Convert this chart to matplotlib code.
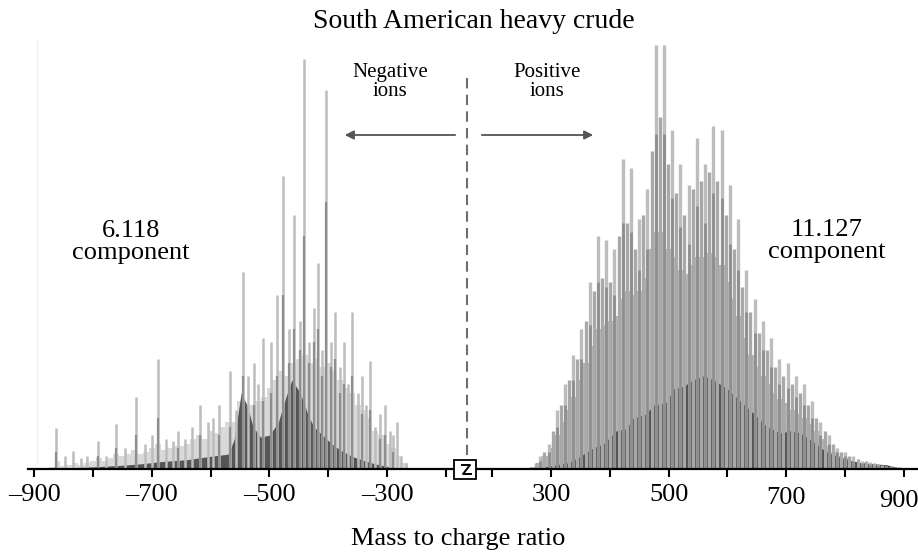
import numpy as np
import matplotlib.pyplot as plt
from matplotlib.patches import Rectangle
from matplotlib.transforms import ScaledTranslation

plt.rcParams['font.family'] = ['Liberation Serif', 'DejaVu Serif']

# ---- positive ions (11.127 component), main CH2 series every 14 u
pos_major_mz = [282, 296, 310, 324, 338, 352, 366, 380, 394, 408, 422, 436, 450, 464,
                478, 492, 506, 520, 534, 548, 562, 576, 590, 604, 618, 632, 646, 660,
                674, 688, 702, 716, 730, 744, 758, 772, 786, 800, 814, 828, 842, 856,
                870, 884, 898]
pos_major_h = [3, 6, 14, 20, 27, 33, 44, 55, 54, 52, 73, 71, 59, 66,
               100, 100, 80, 72, 67, 78, 72, 81, 80, 67, 59, 47, 40, 35,
               31, 26, 25, 22, 20, 16, 11, 8, 5, 4, 3, 2, 1.6, 1.2,
               0.8, 0.5, 0.3]
pos_major_mid = [2, 4, 10, 15, 21, 26, 34, 44, 43, 41, 58, 56, 47, 52,
                 79, 79, 64, 57, 53, 62, 58, 65, 64, 53, 47, 37, 32, 28,
                 24, 20, 19, 17, 15, 12, 8, 6, 4, 3, 2, 1.5, 1.2, 0.9,
                 0.6, 0.4, 0.2]
# second series in between
pos_minor_mz = [275, 289, 303, 317, 331, 345, 359, 373, 387, 401, 415, 429, 443, 457,
                471, 485, 499, 513, 527, 541, 555, 569, 583, 597, 611, 625, 639, 653,
                667, 681, 695, 709, 723, 737, 751, 765, 779, 793, 807, 821, 835, 849,
                863, 877, 891]
pos_minor_h = [1.5, 4, 9, 15, 21, 26, 35, 42, 45, 44, 55, 58, 52, 60,
               75, 83, 72, 65, 60, 66, 68, 70, 68, 60, 52, 43, 37, 32,
               28, 24, 22, 20, 18, 15, 12, 9, 6, 4, 3, 2.3, 1.8, 1.3,
               1, 0.7, 0.4]
# unresolved background, every 10 u
pos_haze_mz = [260, 270, 280, 290, 300, 310, 320, 330, 340, 350, 360, 370, 380,
               390, 400, 410, 420, 430, 440, 450, 460, 470, 480, 490, 500, 510,
               520, 530, 540, 550, 560, 570, 580, 590, 600, 610, 620, 630, 640,
               650, 660, 670, 680, 690, 700, 710, 720, 730, 740, 750, 760, 770,
               780, 790, 800, 810, 820, 830, 840, 850, 860, 870, 880, 890, 900]
pos_haze_h = [0, 0.5, 1.5, 3, 5, 8, 11, 14, 17, 21, 25, 29, 33,
              34, 35, 36, 40, 42, 41, 42, 45, 52, 56, 56, 52, 50,
              47, 46, 48, 50, 50, 51, 50, 48, 44, 40, 36, 31, 27,
              24, 22, 20, 18, 16.5, 15.5, 14, 13, 12, 10.5, 9, 7, 5.5,
              4, 3, 2.5, 2, 1.6, 1.3, 1.1, 0.9, 0.7, 0.5, 0.3, 0.2, 0]
pos_dark_mz = [270, 300, 330, 350, 372, 390, 411, 428, 440, 462, 474, 496, 508,
               525, 542, 560, 576, 599, 622, 645, 667, 690, 707, 724, 740, 768,
               796, 825, 870, 900]
pos_dark_h = [0, 0.8, 1.5, 3, 5, 6, 9, 9.5, 12, 13, 15, 15.7, 18.9,
              19.5, 21, 22, 21, 19, 16, 13, 10, 8.5, 9, 8.5, 7, 4,
              2.5, 1.5, 1, 0]

# ---- negative ions (6.118 component)
neg_mz = [-863, -848, -833, -820, -810, -792, -778, -760, -745, -726, -712, -700,
          -689, -676, -664, -655, -643, -632, -618, -605, -596, -585, -567, -556,
          -545, -536, -527, -519, -511, -498, -488, -477, -466, -458, -448, -441,
          -432, -424, -418, -410, -404, -396, -389, -381, -373, -366, -359, -350,
          -343, -336, -329, -320, -312, -304, -296, -290, -283, -276, -268]
neg_h = [9.7, 3, 4.3, 2.5, 3, 6.6, 3, 10.6, 5, 17, 6, 8,
         26, 7, 6.6, 9, 7, 10, 15, 11, 12, 15, 23, 14,
         46.5, 22, 25, 20, 31, 30, 41, 69, 33, 60, 35, 96.6,
         30, 38, 48.5, 28, 89.4, 30, 37, 24, 30, 20, 37, 18,
         22, 15, 25.5, 10, 13, 15, 9, 8, 11, 3, 1.5]
neg_mid_mz = [-863, -792, -760, -726, -689, -655, -618, -585, -567, -545, -527, -511,
              -498, -488, -477, -466, -458, -448, -441, -432, -424, -418, -410, -404,
              -396, -389, -381, -373, -359, -343, -329, -312, -304, -290]
neg_mid_h = [4, 3, 5, 8, 12, 5, 8, 8, 10, 22, 15, 16,
             18, 22, 41, 25, 33, 28, 55, 25, 30, 33, 22, 63,
             24, 26, 18, 20, 22, 13, 14, 7, 8, 4]
neg_haze_mz = [-880, -870, -860, -850, -840, -830, -820, -810, -800, -790, -780,
               -770, -760, -750, -740, -730, -720, -710, -700, -690, -680, -670,
               -660, -650, -640, -630, -620, -610, -600, -590, -580, -570, -560,
               -550, -540, -530, -520, -510, -500, -490, -480, -470, -460, -450,
               -440, -430, -420, -410, -400, -390, -380, -370, -360, -350, -340,
               -330, -320, -310, -300, -290, -280, -270, -260]
neg_haze_h = [0, 0.5, 2, 0.8, 1, 1.5, 1, 1.5, 2, 2.5, 2,
              2.5, 3.5, 3, 3.5, 4.5, 3.5, 4, 5, 6, 4.5, 5,
              5.5, 5.5, 6, 7, 8, 7, 9, 8.5, 10, 11, 11,
              16, 14, 15, 16, 17, 19, 21, 23, 22, 25, 26,
              27, 25, 26, 24, 25, 23, 21, 19, 18, 15, 14,
              12, 9, 8, 6, 5, 3, 1.5, 0]
neg_dark_mz = [-880, -840, -800, -760, -720, -680, -640, -600, -570, -560, -548, -538,
               -528, -515, -500, -485, -472, -462, -448, -435, -425, -410, -395, -380,
               -360, -340, -320, -300, -280, -260]
neg_dark_h = [0, 0.3, 0.5, 0.8, 1.2, 1.8, 2.2, 3, 3.5, 7, 18, 15,
              10, 7.5, 8, 11, 17, 21, 18, 13, 10, 8, 6, 4.5,
              3, 2, 1.2, 0.6, 0.2, 0]

neg_ticks = [-900, -700, -500, -300]
neg_minor = [-800, -600, -400, -200]
pos_ticks = [300, 500, 700, 900]
pos_minor = [200, 400, 600, 800]

W, H = 918, 554
base_y, top_y = 469, 45
fig = plt.figure(figsize=(W / 100, H / 100), dpi=100)
b = (H - base_y) / H
hh = (base_y - top_y) / H
axl = fig.add_axes([28 / W, b, (465 - 28) / W, hh])
axr = fig.add_axes([465 / W, b, (918 - 465) / W, hh])

LIGHT, MID, DARK = '#bdbdbd', '#8e8e8e', '#454545'

axl.fill_between(neg_haze_mz, neg_haze_h, step='mid', color='#d9d9d9', lw=0)
axl.vlines(neg_mz, 0, neg_h, colors=LIGHT, lw=1.8)
axl.vlines(neg_mid_mz, 0, neg_mid_h, colors=MID, lw=1.6)
axl.fill_between(neg_dark_mz, neg_dark_h, color='#555555', lw=0)

axr.fill_between(pos_haze_mz, pos_haze_h, step='mid', color='#b2b2b2', lw=0)
axr.vlines(pos_minor_mz, 0, pos_minor_h, colors='#a8a8a8', lw=2.4)
axr.vlines(pos_major_mz, 0, pos_major_h, colors=LIGHT, lw=2.4)
axr.vlines(pos_major_mz, 0, pos_major_mid, colors=MID, lw=2.0)
axr.fill_between(pos_dark_mz, pos_dark_h, color=DARK, lw=0)

axl.set_xlim(-910.2, -167.8)
axr.set_xlim(154.1, 923.7)
for ax in (axl, axr):
    ax.set_ylim(0, 100)
    ax.patch.set_alpha(0)
    for s in ('left', 'right', 'top'):
        ax.spines[s].set_visible(False)
    ax.spines['bottom'].set_linewidth(1.6)
    ax.set_yticks([])
    ax.tick_params(axis='x', which='both', direction='out', length=6, width=1.5,
                   labelsize=19, pad=5)

axl.set_xticks(neg_ticks, ['\u2013' + str(-t) for t in neg_ticks])
axl.set_xticks(neg_minor, minor=True)
axr.set_xticks(pos_ticks, [str(t) for t in pos_ticks])
axr.set_xticks(pos_minor, minor=True)

# 700 and 900 labels sit a little lower in the original, 900 also hugs the edge
labs = axr.get_xticklabels()
for lab, dx, dy in zip(labs, [0, 0, 0, -5], [0, 0, 3, 6]):
    lab.set_transform(lab.get_transform() +
                      ScaledTranslation(dx / 100, -dy / 100, fig.dpi_scale_trans))

# overlay in pixel coordinates for annotations
ov = fig.add_axes([0, 0, 1, 1])
ov.set_xlim(0, W)
ov.set_ylim(H, 0)
ov.axis('off')
ov.patch.set_alpha(0)

ov.plot([37, 37], [40, 462], color='#f0f0f0', lw=1)
ov.plot([467, 467], [78, 458], color='#6e6e6e', lw=1.5, ls=(0, (5, 3)))
ov.add_patch(Rectangle((454, 460), 22, 19, fc='white', ec='black', lw=1.3, zorder=5))
ov.plot([462, 470, 463, 471], [465, 465, 474, 474], color='black', lw=1.4, zorder=6)

ov.annotate('', xy=(342, 135), xytext=(458, 135),
            arrowprops=dict(arrowstyle='-|>', color='#555555', lw=1.3, mutation_scale=13))
ov.annotate('', xy=(596, 135), xytext=(479, 135),
            arrowprops=dict(arrowstyle='-|>', color='#555555', lw=1.3, mutation_scale=13))

ov.text(474, 22, 'South American heavy crude', ha='center', va='center', fontsize=20)
ov.text(390, 82, 'Negative\nions', ha='center', va='center', fontsize=15, linespacing=0.95)
ov.text(547, 82, 'Positive\nions', ha='center', va='center', fontsize=15, linespacing=0.95)
ov.text(131, 242, '6.118\ncomponent', ha='center', va='center', fontsize=19, linespacing=1.0)
ov.text(827, 241, '11.127\ncomponent', ha='center', va='center', fontsize=19, linespacing=1.0)
ov.text(458, 539, 'Mass to charge ratio', ha='center', va='center', fontsize=19)

fig.savefig('out.png', dpi=100)
